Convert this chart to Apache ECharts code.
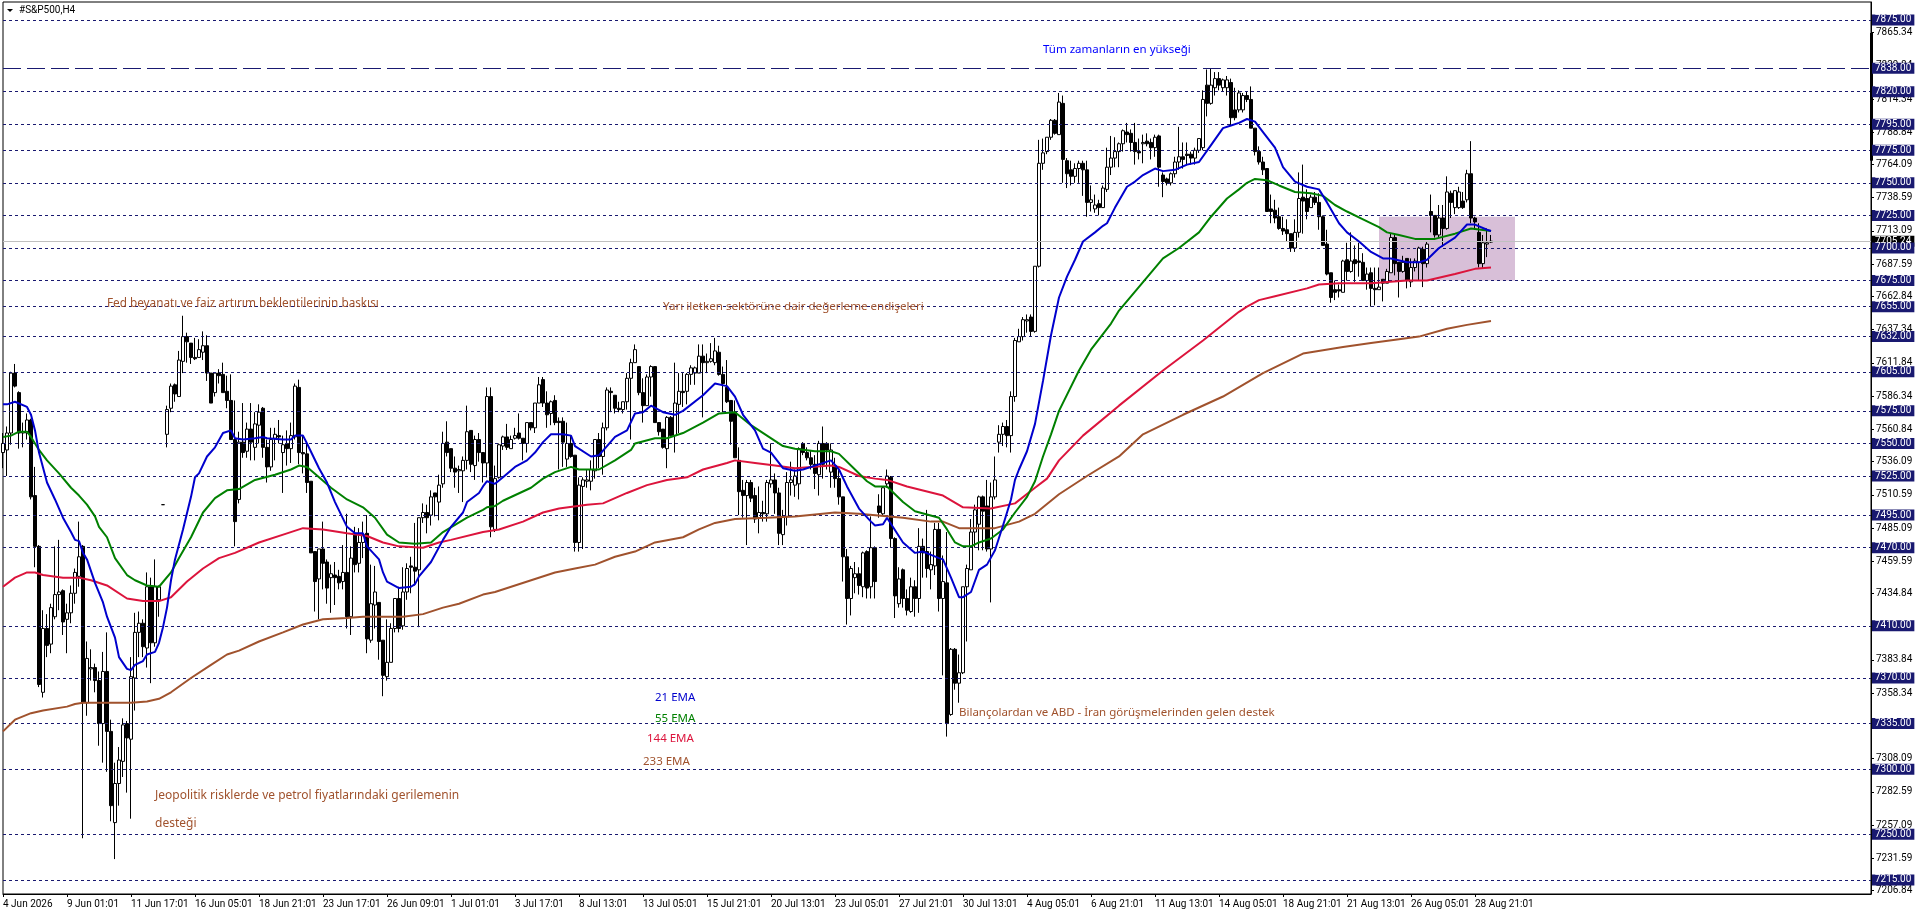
<!DOCTYPE html>
<html>
<head>
<meta charset="utf-8">
<title>#S&amp;P500,H4</title>
<script src="https://cdn.jsdelivr.net/npm/echarts@6/dist/echarts.min.js"></script>
<style>
html,body{margin:0;padding:0;background:#fff;overflow:hidden}
#chart{width:1916px;height:915px}
</style>
</head>
<body>
<div id="chart"></div>
<script>
// one tick label every 16 bars
var timeLabels = ['4 Jun 2026','9 Jun 01:01','11 Jun 17:01','16 Jun 05:01','18 Jun 21:01','23 Jun 17:01','26 Jun 09:01','1 Jul 01:01','3 Jul 17:01','8 Jul 13:01','13 Jul 05:01','15 Jul 21:01','20 Jul 13:01','23 Jul 05:01','27 Jul 21:01','30 Jul 13:01','4 Aug 05:01','6 Aug 21:01','11 Aug 13:01','14 Aug 05:01','18 Aug 21:01','21 Aug 13:01','26 Aug 05:01','28 Aug 21:01'];
var priceTicks = [7865.34,7839.84,7814.34,7788.84,7764.09,7738.59,7713.09,7687.59,7662.84,7637.34,7611.84,7586.34,7560.84,7536.09,7510.59,7485.09,7459.59,7434.84,7409.34,7383.84,7358.34,7332.84,7308.09,7282.59,7257.09,7231.59,7206.84];
var levels = [7875,7820,7795,7775,7750,7725,7700,7675,7655,7632,7605,7575,7550,7525,7495,7470,7410,7370,7335,7300,7250,7215];
var athLevel = 7838;
var lastPrice = 7705.24;

// open, close, low, high
var ohlc = [
[7543,7550,7531,7558],[7545,7558,7525,7563],[7558,7604,7549,7605],[7604,7594,7593,7611],[7589,7558,7546,7590],[7558,7559,7547,7566],[7558,7568,7553,7573],[7568,7509,7507,7569],[7510,7471,7455,7532],[7471,7365,7363,7472],
[7359,7408,7355,7422],[7408,7395,7386,7419],[7396,7424,7389,7427],[7417,7434,7415,7471],[7434,7436,7422,7476],[7437,7413,7403,7438],[7415,7420,7389,7427],[7420,7435,7412,7441],[7435,7451,7427,7454],[7448,7463,7440,7490],
[7471,7351,7247,7472],[7351,7385,7341,7398],[7377,7378,7368,7392],[7378,7368,7359,7381],[7368,7335,7318,7375],[7335,7375,7305,7390],[7375,7329,7298,7405],[7329,7272,7260,7338],[7259,7289,7231,7305],[7289,7307,7272,7317],
[7306,7334,7294,7339],[7335,7324,7282,7337],[7323,7371,7262,7386],[7370,7405,7345,7420],[7405,7412,7386,7421],[7412,7394,7386,7415],[7393,7440,7378,7451],[7440,7397,7366,7447],[7397,7440,7394,7461],[7430,7440,7417,7441],
[7503,7503,7503,7503],[7557,7576,7547,7579],[7577,7594,7574,7596],[7595,7588,7582,7596],[7586,7614,7586,7621],[7613,7632,7604,7648],[7632,7628,7612,7635],[7627,7616,7611,7627],[7616,7615,7614,7631],[7616,7622,7616,7630],
[7620,7625,7614,7636],[7625,7604,7598,7633],[7604,7581,7581,7604],[7589,7604,7586,7604],[7604,7602,7596,7607],[7603,7589,7589,7612],[7590,7583,7577,7602],[7583,7553,7553,7603],[7553,7490,7471,7583],[7507,7551,7504,7559],
[7551,7543,7539,7581],[7544,7561,7539,7566],[7561,7551,7537,7581],[7547,7565,7537,7574],[7564,7574,7550,7580],[7577,7547,7539,7578],[7547,7532,7520,7553],[7532,7553,7529,7562],[7554,7557,7537,7562],[7556,7555,7550,7568],
[7543,7549,7512,7556],[7550,7546,7533,7560],[7546,7556,7535,7566],[7555,7594,7553,7596],[7593,7543,7534,7599],[7543,7542,7527,7556],[7542,7520,7512,7550],[7521,7466,7466,7521],[7467,7444,7421,7467],[7446,7469,7415,7469],
[7469,7458,7438,7490],[7459,7439,7427,7461],[7447,7450,7420,7457],[7449,7447,7426,7459],[7448,7443,7438,7453],[7444,7451,7438,7472],[7451,7417,7408,7496],[7417,7462,7403,7471],[7481,7457,7451,7486],[7458,7474,7451,7485],
[7474,7480,7462,7490],[7481,7400,7389,7495],[7399,7427,7397,7457],[7426,7436,7408,7456],[7428,7398,7384,7428],[7399,7372,7356,7399],[7371,7382,7368,7415],[7382,7408,7382,7412],[7408,7431,7405,7431],[7431,7408,7405,7440],
[7410,7436,7407,7455],[7436,7454,7430,7458],[7456,7455,7435,7463],[7455,7452,7441,7489],[7453,7493,7409,7493],[7493,7497,7489,7504],[7497,7493,7481,7503],[7495,7509,7487,7514],[7512,7509,7494,7512],[7505,7518,7491,7526],
[7519,7550,7516,7559],[7551,7543,7540,7567],[7546,7531,7528,7546],[7531,7528,7516,7540],[7529,7530,7512,7533],[7529,7537,7505,7540],[7537,7559,7530,7579],[7560,7534,7528,7560],[7533,7553,7522,7556],[7553,7543,7536,7558],
[7543,7535,7520,7543],[7535,7586,7524,7593],[7586,7486,7478,7593],[7484,7523,7482,7533],[7524,7549,7523,7550],[7548,7555,7545,7556],[7555,7547,7545,7565],[7546,7553,7546,7556],[7554,7556,7553,7562],[7558,7554,7553,7573],
[7554,7550,7537,7554],[7550,7566,7543,7566],[7566,7562,7560,7566],[7562,7581,7558,7581],[7581,7595,7581,7601],[7599,7581,7578,7601],[7581,7572,7562,7590],[7573,7582,7564,7583],[7583,7566,7564,7587],[7567,7566,7530,7570],
[7567,7551,7532,7570],[7538,7550,7532,7566],[7550,7540,7539,7556],[7541,7474,7467,7541],[7474,7518,7467,7524],[7517,7522,7469,7524],[7521,7522,7516,7530],[7521,7530,7514,7537],[7529,7553,7523,7553],[7553,7540,7531,7558],
[7540,7562,7526,7566],[7562,7591,7560,7593],[7590,7589,7574,7593],[7587,7577,7573,7587],[7577,7576,7574,7582],[7576,7582,7573,7582],[7582,7600,7576,7604],[7600,7612,7553,7615],[7612,7622,7612,7626],[7609,7589,7587,7609],
[7589,7579,7566,7600],[7579,7601,7579,7603],[7601,7609,7586,7610],[7609,7566,7566,7609],[7566,7559,7556,7566],[7561,7547,7546,7561],[7546,7570,7531,7571],[7570,7556,7555,7571],[7556,7581,7543,7612],[7580,7590,7558,7604],
[7590,7589,7578,7604],[7590,7603,7580,7604],[7603,7608,7595,7610],[7604,7608,7595,7609],[7604,7617,7604,7626],[7617,7612,7570,7626],[7612,7613,7604,7619],[7613,7615,7612,7627],[7612,7621,7610,7631],[7620,7603,7602,7625],
[7603,7596,7574,7609],[7593,7582,7581,7614],[7583,7567,7549,7583],[7574,7539,7539,7583],[7537,7513,7495,7547],[7514,7510,7493,7522],[7510,7520,7472,7522],[7520,7508,7505,7522],[7510,7492,7489,7516],[7493,7497,7481,7517],
[7497,7496,7490,7506],[7496,7520,7490,7522],[7519,7522,7516,7550],[7522,7512,7496,7527],[7512,7481,7472,7516],[7480,7494,7472,7499],[7494,7520,7487,7528],[7520,7522,7510,7536],[7518,7525,7509,7530],[7519,7546,7507,7547],
[7550,7543,7541,7551],[7543,7539,7537,7547],[7539,7534,7530,7545],[7534,7527,7515,7541],[7526,7550,7510,7552],[7550,7534,7523,7563],[7550,7545,7530,7551],[7528,7545,7516,7550],[7533,7523,7516,7539],[7523,7509,7503,7530],
[7509,7463,7444,7509],[7463,7431,7411,7469],[7431,7454,7418,7456],[7447,7450,7435,7459],[7450,7441,7434,7455],[7440,7466,7432,7467],[7467,7439,7431,7468],[7440,7470,7431,7494],[7470,7444,7431,7471],[7502,7497,7493,7511],
[7496,7516,7495,7517],[7519,7525,7516,7530],[7524,7477,7470,7525],[7477,7433,7416,7478],[7427,7446,7424,7455],[7453,7431,7424,7454],[7431,7422,7418,7438],[7421,7440,7420,7447],[7440,7431,7417,7445],[7431,7471,7420,7485],
[7471,7466,7447,7477],[7467,7454,7447,7499],[7453,7457,7438,7467],[7456,7484,7449,7489],[7484,7431,7421,7489],[7431,7444,7372,7464],[7443,7335,7325,7482],[7342,7392,7341,7393],[7392,7366,7361,7393],[7366,7374,7351,7388],
[7374,7440,7373,7440],[7440,7454,7398,7457],[7453,7482,7453,7492],[7482,7499,7470,7503],[7488,7509,7468,7510],[7509,7498,7468,7510],[7502,7469,7467,7522],[7469,7509,7428,7520],[7509,7522,7507,7540],[7551,7557,7543,7564],
[7557,7563,7548,7566],[7563,7556,7547,7568],[7556,7586,7543,7590],[7586,7629,7582,7631],[7628,7632,7628,7638],[7632,7645,7629,7647],[7644,7645,7635,7649],[7647,7636,7632,7649],[7636,7686,7635,7686],[7686,7765,7685,7783],
[7765,7773,7760,7784],[7774,7785,7772,7785],[7785,7798,7783,7799],[7798,7788,7787,7799],[7787,7812,7787,7819],[7811,7768,7750,7817],[7767,7757,7746,7769],[7760,7755,7748,7767],[7755,7761,7750,7765],[7761,7765,7750,7767],
[7765,7760,7740,7767],[7760,7735,7724,7767],[7735,7737,7728,7748],[7730,7733,7727,7741],[7734,7731,7725,7737],[7731,7746,7731,7748],[7745,7762,7743,7777],[7762,7769,7756,7786],[7769,7774,7762,7785],[7774,7780,7762,7781],
[7780,7790,7774,7791],[7789,7787,7781,7796],[7788,7781,7774,7791],[7781,7774,7764,7796],[7774,7773,7768,7784],[7780,7781,7765,7787],[7782,7780,7778,7788],[7781,7777,7768,7784],[7777,7785,7770,7787],[7786,7762,7747,7787],
[7756,7751,7739,7758],[7753,7750,7748,7754],[7750,7757,7748,7758],[7757,7766,7754,7770],[7766,7770,7760,7793],[7770,7768,7761,7781],[7772,7771,7764,7781],[7772,7769,7764,7774],[7769,7775,7764,7777],[7775,7784,7773,7784],
[7777,7814,7775,7821],[7825,7811,7801,7837],[7811,7825,7810,7838],[7823,7830,7817,7835],[7830,7825,7821,7835],[7823,7829,7820,7830],[7823,7829,7817,7832],[7827,7800,7794,7830],[7806,7800,7798,7823],[7806,7819,7804,7821],
[7806,7817,7804,7819],[7817,7814,7812,7820],[7814,7792,7792,7824],[7792,7774,7771,7792],[7774,7766,7764,7778],[7766,7760,7756,7770],[7761,7728,7728,7761],[7730,7728,7719,7741],[7729,7723,7719,7737],[7724,7715,7714,7731],
[7715,7713,7710,7724],[7714,7711,7705,7722],[7711,7700,7697,7711],[7700,7712,7697,7722],[7712,7738,7708,7758],[7739,7736,7711,7764],[7738,7728,7722,7745],[7731,7739,7731,7741],[7739,7735,7733,7743],[7735,7724,7714,7742],
[7724,7702,7702,7725],[7703,7680,7679,7714],[7681,7662,7658,7681],[7668,7666,7660,7675],[7668,7667,7662,7672],[7666,7690,7666,7691],[7691,7682,7675,7704],[7682,7690,7681,7712],[7691,7688,7674,7702],[7690,7689,7678,7704],
[7689,7675,7675,7696],[7675,7680,7668,7685],[7681,7669,7655,7685],[7669,7668,7656,7685],[7668,7670,7668,7685],[7676,7673,7659,7676],[7673,7682,7673,7684],[7681,7708,7681,7711],[7708,7688,7679,7711],[7689,7682,7662,7689],
[7682,7689,7681,7694],[7692,7675,7669,7692],[7674,7685,7670,7692],[7685,7690,7682,7692],[7689,7700,7675,7701],[7699,7688,7670,7701],[7688,7703,7685,7705],[7728,7725,7712,7741],[7725,7710,7708,7725],[7710,7723,7708,7733],
[7723,7715,7701,7733],[7715,7743,7714,7755],[7742,7735,7723,7744],[7731,7744,7726,7744],[7731,7743,7730,7747],[7736,7731,7730,7743],[7737,7757,7735,7760],[7757,7723,7719,7782],[7723,7720,7714,7724],[7712,7688,7685,7719],
[7688,7704,7684,7710],[7703,7704,7693,7715],[7704.5,7705.24,7704,7710]
];

// averages, read at their turning points: [bar, price]
var ema21 = [[0,7580],[1,7580],[3,7582],[6,7578],[7,7572],[8,7560],[9,7543],[11,7520],[13,7507],[15,7493],[17,7482],[18,7476],[19,7475],[20,7466],[21,7461],[23,7443],[25,7428],[26,7417],[28,7401],[29,7386],[31,7377],[32,7376],[33,7380],[35,7383],[36,7388],[38,7390],[39,7397],[40,7409],[41,7424],[42,7445],[43,7461],[45,7484],[47,7509],[48,7524],[49,7527],[51,7540],[53,7547],[55,7558],[57,7560],[58,7554],[60,7553],[63,7554],[65,7555],[66,7554],[70,7553],[72,7553],[73,7556],[75,7556],[76,7550],[79,7531],[81,7520],[83,7505],[86,7486],[88,7481],[90,7481],[91,7471],[94,7461],[95,7451],[96,7444],[99,7439],[102,7440],[103,7442],[104,7448],[107,7459],[110,7476],[112,7486],[115,7497],[116,7505],[119,7512],[120,7517],[121,7521],[123,7519],[125,7524],[128,7532],[131,7537],[133,7543],[135,7551],[137,7557],[140,7557],[142,7556],[143,7548],[147,7540],[149,7541],[151,7548],[153,7555],[156,7560],[158,7573],[160,7574],[162,7579],[165,7574],[168,7572],[170,7575],[175,7587],[178,7596],[181,7594],[183,7586],[185,7572],[188,7560],[190,7546],[192,7543],[195,7531],[198,7529],[200,7530],[203,7533],[207,7537],[209,7530],[211,7517],[214,7500],[217,7490],[218,7487],[220,7488],[221,7493],[225,7474],[228,7466],[230,7467],[234,7462],[235,7461],[237,7447],[239,7432],[240,7432],[242,7436],[244,7453],[246,7457],[248,7468],[250,7487],[252,7507],[253,7522],[254,7530],[256,7544],[258,7565],[260,7598],[262,7633],[264,7662],[266,7678],[268,7691],[270,7705],[273,7712],[275,7717],[276,7719],[278,7731],[281,7747],[283,7751],[285,7756],[288,7761],[290,7759],[293,7760],[296,7764],[299,7766],[302,7779],[305,7792],[307,7794],[309,7796],[311,7799],[313,7797],[315,7789],[318,7777],[320,7762],[323,7751],[326,7747],[329,7745],[331,7735],[334,7719],[336,7712],[339,7705],[342,7697],[345,7692],[347,7692],[351,7689],[354,7689],[356,7691],[359,7700],[363,7708],[366,7718],[368,7718],[371,7714],[372,7713]];
var ema55 = [[0,7555],[2,7556],[4,7559],[6,7559],[7,7555],[9,7545],[11,7537],[14,7527],[17,7516],[19,7510],[21,7503],[23,7494],[24,7486],[26,7478],[28,7462],[31,7449],[33,7445],[36,7441],[39,7440],[42,7451],[44,7462],[47,7478],[50,7497],[53,7508],[56,7514],[59,7515],[63,7522],[68,7526],[72,7530],[74,7533],[76,7532],[79,7524],[82,7516],[86,7507],[90,7501],[93,7493],[96,7480],[99,7474],[103,7473],[107,7474],[110,7482],[116,7493],[120,7499],[121,7501],[123,7502],[125,7506],[132,7516],[135,7523],[138,7528],[142,7532],[144,7530],[149,7530],[153,7537],[157,7545],[158,7550],[163,7554],[166,7554],[170,7558],[175,7566],[179,7573],[183,7574],[187,7564],[191,7556],[195,7548],[198,7546],[203,7544],[207,7544],[209,7542],[213,7530],[216,7521],[218,7517],[221,7517],[225,7505],[228,7498],[234,7493],[236,7484],[238,7474],[240,7471],[242,7471],[244,7474],[247,7477],[250,7484],[253,7497],[256,7509],[258,7521],[260,7540],[262,7557],[264,7575],[269,7606],[272,7622],[277,7642],[279,7652],[290,7692],[294,7700],[299,7712],[302,7724],[306,7738],[309,7745],[311,7750],[313,7753],[316,7752],[319,7748],[323,7743],[327,7742],[330,7740],[333,7733],[336,7728],[340,7722],[344,7716],[346,7712],[349,7710],[353,7707],[358,7707],[363,7711],[367,7715],[372,7713]];
var ema144 = [[0,7440],[3,7447],[6,7451],[8,7451],[10,7449],[15,7447],[19,7447],[22,7445],[26,7441],[31,7431],[35,7429],[39,7429],[42,7432],[46,7444],[50,7454],[54,7462],[58,7466],[64,7474],[71,7481],[75,7485],[80,7484],[86,7481],[91,7479],[95,7474],[99,7471],[105,7470],[109,7474],[112,7476],[120,7482],[124,7484],[130,7490],[135,7497],[139,7500],[146,7503],[150,7504],[156,7512],[161,7518],[166,7522],[171,7524],[175,7530],[181,7535],[183,7537],[188,7535],[193,7533],[198,7531],[207,7533],[209,7532],[214,7525],[218,7523],[221,7522],[226,7517],[235,7510],[240,7501],[247,7500],[253,7504],[258,7516],[261,7523],[264,7537],[270,7556],[279,7579],[290,7606],[300,7629],[309,7651],[311,7655],[314,7660],[318,7663],[326,7669],[329,7672],[334,7673],[342,7673],[351,7675],[356,7675],[363,7680],[368,7684],[372,7685]];
var ema233 = [[0,7329],[3,7338],[7,7343],[10,7345],[16,7348],[18,7350],[20,7351],[25,7351],[28,7351],[32,7351],[36,7352],[39,7354],[42,7359],[47,7370],[52,7380],[56,7388],[59,7391],[64,7398],[70,7405],[75,7411],[80,7415],[86,7416],[90,7417],[94,7417],[100,7417],[105,7419],[110,7424],[114,7427],[120,7434],[123,7436],[128,7441],[133,7446],[138,7451],[143,7454],[148,7457],[153,7463],[158,7467],[163,7474],[170,7478],[174,7484],[178,7489],[183,7492],[191,7493],[198,7494],[208,7497],[214,7496],[225,7493],[232,7490],[235,7490],[239,7485],[248,7485],[254,7490],[258,7496],[264,7511],[271,7525],[279,7540],[285,7557],[295,7572],[305,7586],[315,7604],[325,7619],[335,7624],[342,7627],[349,7630],[354,7632],[361,7638],[366,7641],[372,7644]];

// text, bar, price, colour, font size
var notes = [
  ['Tüm zamanların en yükseği', 260, 7852, '#0000ff', 11.5],
  ['Fed beyanatı ve faiz artırım beklentilerinin baskısı', 26, 7657, '#a0522d', 11.75],
  ['Yarı iletken sektörüne dair değerleme endişeleri', 165, 7655, '#a0522d', 11.6],
  ['21 EMA', 163, 7355, '#0000cd', 11.5],
  ['55 EMA', 163, 7339, '#008000', 11.5],
  ['144 EMA', 161, 7323, '#dc143c', 11.5],
  ['233 EMA', 160, 7306, '#a0522d', 11.5],
  ['Bilançolardan ve ABD - İran görüşmelerinden gelen destek', 239, 7343, '#a0522d', 11.5],
  ['Jeopolitik risklerde ve petrol fiyatlarındaki gerilemenin', 38, 7280, '#a0522d', 12],
  ['desteği', 38, 7258, '#a0522d', 12]
];
var boxFrom = 344, boxTo = 378, boxHigh = 7724, boxLow = 7675;
var scaleBarTop = 7865, scaleBarBottom = 7767;
var barCount = 468;

var categories = [];
for (var i = 0; i < barCount; i++) {
  categories.push(i % 16 === 0 && timeLabels[i / 16] ? timeLabels[i / 16] : String(i));
}
function hasLabel(i) { return i % 16 === 0 && !!timeLabels[i / 16]; }

var axisFont = '"Roboto",sans-serif';
var noteFont = '"Noto Sans",sans-serif';

function emaSeries(name, data, color) {
  return {
    name: name, type: 'line', data: data, z: 5, showSymbol: false, symbol: 'none',
    lineStyle: { color: color, width: 2 }, animation: false, silent: true
  };
}

function priceTag(bg) {
  return { position: 'end', distance: 1, color: '#fff', backgroundColor: bg, padding: [1, 3, 0, 3], lineHeight: 10,
    fontFamily: axisFont, fontSize: 10, formatter: function (p) { return p.value.toFixed(2); } };
}

// tags sit on their own layer so they cover the axis labels
function tagSeries(name, z, values, bg) {
  return {
    name: name, type: 'line', data: [], zlevel: 1, z: z, silent: true,
    markLine: { silent: true, symbol: 'none', animation: false,
      lineStyle: { color: 'transparent', width: 1 }, label: priceTag(bg),
      data: values.map(function (v) { return { yAxis: v }; }) }
  };
}

var levelLines = levels.map(function (v) { return { yAxis: v }; });
levelLines.push({ yAxis: athLevel, lineStyle: { type: [18, 6], color: '#191970', width: 1 } });

var chart = echarts.init(document.getElementById('chart'), null, { renderer: 'canvas' });
chart.setOption({
  animation: false,
  backgroundColor: '#fff',
  grid: { left: 3, right: 45, top: 2, bottom: 21, show: true, borderColor: '#000', borderWidth: 1, backgroundColor: 'transparent' },
  title: { text: '#S&P500,H4', left: 14, top: 0, textStyle: { fontFamily: axisFont, fontSize: 10, fontWeight: 'normal', color: '#000' } },
  graphic: [{ type: 'polygon', shape: { points: [[7, 9], [13, 9], [10, 12]] }, style: { fill: '#000' } }],
  xAxis: {
    type: 'category', data: categories, boundaryGap: false,
    axisLine: { lineStyle: { color: '#000' } },
    axisTick: { length: 3, interval: hasLabel, lineStyle: { color: '#000' } },
    axisLabel: { interval: hasLabel, align: 'left', margin: 5, fontFamily: axisFont, fontSize: 10, color: '#000', hideOverlap: false },
    splitLine: { show: false }
  },
  yAxis: {
    type: 'value', position: 'right', min: 7204.2, max: 7888.8, scale: true,
    axisLine: { show: true, lineStyle: { color: '#000' } },
    axisTick: { show: true, length: 3, customValues: priceTicks, lineStyle: { color: '#000' } },
    axisLabel: { customValues: priceTicks, margin: 5, fontFamily: axisFont, fontSize: 10, color: '#000',
      formatter: function (v) { return v.toFixed(2); } },
    splitLine: { show: false }
  },
  series: [
    {
      name: 'box', type: 'line', data: [], z: 1, silent: true,
      markArea: { silent: true, itemStyle: { color: '#d8bfd8', opacity: 1 },
        data: [[{ xAxis: boxFrom, yAxis: boxHigh }, { xAxis: boxTo, yAxis: boxLow }]] }
    },
    {
      name: 'last', type: 'line', data: [], z: 2, silent: true,
      markLine: { silent: true, symbol: 'none', animation: false, label: { show: false },
        lineStyle: { type: 'solid', color: '#c0c0c0', width: 1 },
        data: [{ yAxis: lastPrice }] }
    },
    {
      name: 'levels', type: 'line', data: [], z: 3, silent: true,
      markLine: { silent: true, symbol: 'none', animation: false, label: { show: false },
        lineStyle: { type: [3, 3], color: '#191970', width: 1 },
        data: levelLines }
    },
    {
      name: 'scale', type: 'line', data: [], z: 3, silent: true,
      markLine: { silent: true, symbol: 'none', animation: false, label: { show: false },
        lineStyle: { type: 'solid', color: '#000', width: 3 },
        data: [[{ coord: [barCount - 1, scaleBarTop] }, { coord: [barCount - 1, scaleBarBottom] }]] }
    },
    tagSeries('lastTag', 1, [lastPrice], '#000'),
    tagSeries('levelTags', 2, levels.concat([athLevel]), '#191970'),
    {
      name: '#S&P500', type: 'candlestick', data: ohlc, z: 4, barWidth: 3, large: false, progressive: 0,
      itemStyle: { color: '#fff', color0: '#000', borderColor: '#000', borderColor0: '#000', borderColorDoji: '#000', borderWidth: 1 },
      silent: true
    },
    emaSeries('233 EMA', ema233, '#a0522d'),
    emaSeries('144 EMA', ema144, '#dc143c'),
    emaSeries('55 EMA', ema55, '#008000'),
    emaSeries('21 EMA', ema21, '#0000cd'),
    {
      name: 'notes', type: 'line', data: [], z: 6, silent: true,
      markPoint: {
        silent: true, symbol: 'circle', symbolSize: 0, animation: false,
        data: notes.map(function (n) {
          return { coord: [n[1], n[2]], value: n[0],
            label: { show: true, position: 'right', distance: 0, color: n[3], fontFamily: noteFont, fontSize: n[4],
              formatter: n[0] } };
        })
      }
    }
  ]
});
</script>
</body>
</html>
